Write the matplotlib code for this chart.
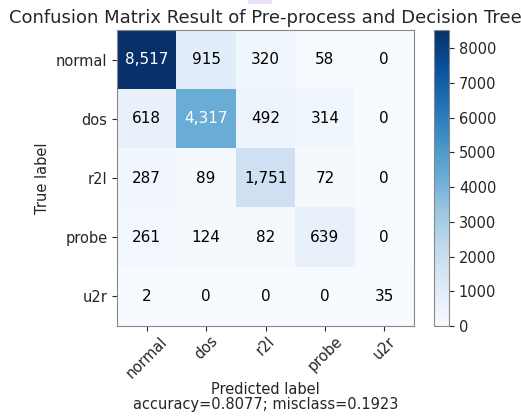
import matplotlib
matplotlib.use("Agg")
import matplotlib.pyplot as plt
from matplotlib.patches import Rectangle
import numpy as np

classes = ["normal", "dos", "r2l", "probe", "u2r"]
row_normal = [8517, 915, 320, 58, 0]
row_dos = [618, 4317, 492, 314, 0]
row_r2l = [287, 89, 1751, 72, 0]
row_probe = [261, 124, 82, 639, 0]
row_u2r = [2, 0, 0, 0, 35]
accuracy = 0.8077
misclass = 0.1923

cm = np.array([row_normal, row_dos, row_r2l, row_probe, row_u2r])

plt.rcParams['text.color'] = '#262626'
plt.rcParams['axes.labelcolor'] = '#262626'
plt.rcParams['xtick.color'] = '#262626'
plt.rcParams['ytick.color'] = '#262626'

fig = plt.figure(figsize=(5.21, 4.18), dpi=100)
ax = fig.add_axes([0.2246, 0.220, 0.570, 0.708])
cax = fig.add_axes([0.833, 0.220, 0.029, 0.708])

# small screenshot artifact at top
fig.patches.append(Rectangle((0.476, 0.99), 0.046, 0.012, transform=fig.transFigure,
                             facecolor='#ecdff8', edgecolor='none'))

im = ax.imshow(cm, interpolation='nearest', cmap='Blues', aspect='auto')
cb = fig.colorbar(im, cax=cax)
cb.ax.tick_params(labelsize=10.5)
cb.outline.set_edgecolor('#888888')

ax.set_title("Confusion Matrix Result of Pre-process and Decision Tree", fontsize=13, pad=5)
ticks = np.arange(len(classes))
ax.set_xticks(ticks)
ax.set_xticklabels(classes, rotation=45, fontsize=10.5)
ax.tick_params(axis='x', pad=2)
ax.set_yticks(ticks)
ax.set_yticklabels(classes, fontsize=10.5)
for s in ax.spines.values():
    s.set_edgecolor('#888888')

thresh = cm.max() / 2
for i in range(cm.shape[0]):
    for j in range(cm.shape[1]):
        ax.text(j, i, "{:,}".format(cm[i, j]), ha='center', va='center', fontsize=11,
                color='white' if cm[i, j] > thresh else 'black')

ax.set_ylabel("True label", fontsize=10.5)
ax.set_xlabel("Predicted label\naccuracy={:0.4f}; misclass={:0.4f}".format(accuracy, misclass),
              fontsize=10.5, linespacing=1.0, labelpad=1)

fig.savefig("out.png", dpi=100)
